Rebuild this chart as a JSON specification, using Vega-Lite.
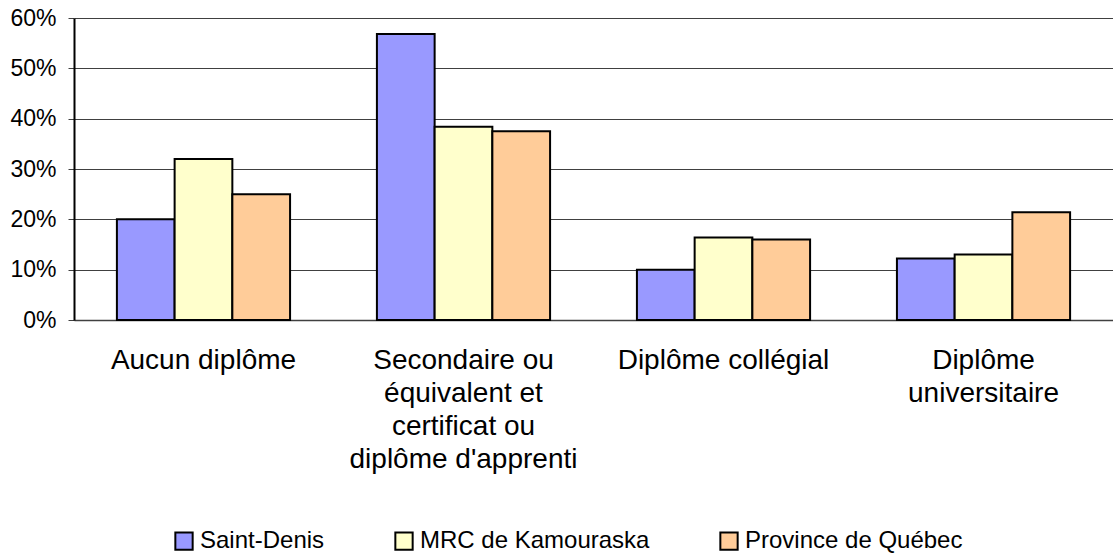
{
  "$schema": "https://vega.github.io/schema/vega-lite/v6.json",
  "autosize": {"type": "none"},
  "width": 1039,
  "height": 302,
  "padding": {"left": 74, "top": 18, "right": 0, "bottom": 235},
  "background": "white",
  "config": {
    "font": "Liberation Sans",
    "view": {"stroke": null},
    "axis": {"labelFont": "Liberation Sans", "labelColor": "black"},
    "legend": {"labelFont": "Liberation Sans"}
  },
  "data": {
    "values": [
      {"categorie": "Aucun diplôme", "territoire": "Saint-Denis", "valeur": 0.200},
      {"categorie": "Aucun diplôme", "territoire": "MRC de Kamouraska", "valeur": 0.320},
      {"categorie": "Aucun diplôme", "territoire": "Province de Québec", "valeur": 0.250},
      {"categorie": "Secondaire ou équivalent et certificat ou diplôme d'apprenti", "territoire": "Saint-Denis", "valeur": 0.568},
      {"categorie": "Secondaire ou équivalent et certificat ou diplôme d'apprenti", "territoire": "MRC de Kamouraska", "valeur": 0.384},
      {"categorie": "Secondaire ou équivalent et certificat ou diplôme d'apprenti", "territoire": "Province de Québec", "valeur": 0.375},
      {"categorie": "Diplôme collégial", "territoire": "Saint-Denis", "valeur": 0.100},
      {"categorie": "Diplôme collégial", "territoire": "MRC de Kamouraska", "valeur": 0.164},
      {"categorie": "Diplôme collégial", "territoire": "Province de Québec", "valeur": 0.160},
      {"categorie": "Diplôme universitaire", "territoire": "Saint-Denis", "valeur": 0.122},
      {"categorie": "Diplôme universitaire", "territoire": "MRC de Kamouraska", "valeur": 0.130},
      {"categorie": "Diplôme universitaire", "territoire": "Province de Québec", "valeur": 0.214}
    ]
  },
  "mark": {"type": "bar", "stroke": "black", "strokeWidth": 2},
  "encoding": {
    "x": {
      "field": "categorie",
      "type": "nominal",
      "sort": null,
      "scale": {"paddingInner": 0.334, "paddingOuter": 0.165},
      "axis": {
        "title": null,
        "labelAngle": 0,
        "ticks": false,
        "domainColor": "#404040",
        "domainWidth": 1.5,
        "labelFontSize": 28,
        "labelLineHeight": 33,
        "labelPadding": 26,
        "labelLimit": 400,
        "labelExpr": "datum.value == 'Secondaire ou équivalent et certificat ou diplôme d\\'apprenti' ? ['Secondaire ou', 'équivalent et', 'certificat ou', 'diplôme d\\'apprenti'] : datum.value == 'Diplôme universitaire' ? ['Diplôme', 'universitaire'] : datum.value"
      }
    },
    "xOffset": {
      "field": "territoire",
      "type": "nominal",
      "sort": ["Saint-Denis", "MRC de Kamouraska", "Province de Québec"],
      "scale": {"paddingInner": 0, "paddingOuter": 0}
    },
    "y": {
      "field": "valeur",
      "type": "quantitative",
      "scale": {"domain": [0, 0.6], "nice": false},
      "axis": {
        "title": null,
        "format": ".0%",
        "values": [0, 0.1, 0.2, 0.3, 0.4, 0.5, 0.6],
        "labelFontSize": 23,
        "labelPadding": 12,
        "tickSize": 6,
        "tickColor": "#404040",
        "domainColor": "black",
        "domainWidth": 2,
        "gridColor": "#404040",
        "gridWidth": 1.2
      }
    },
    "color": {
      "field": "territoire",
      "type": "nominal",
      "sort": ["Saint-Denis", "MRC de Kamouraska", "Province de Québec"],
      "scale": {
        "domain": ["Saint-Denis", "MRC de Kamouraska", "Province de Québec"],
        "range": ["#9999FF", "#FFFFCC", "#FFCC99"]
      },
      "legend": {
        "title": null,
        "orient": "none",
        "legendX": 98,
        "legendY": 511,
        "direction": "horizontal",
        "symbolType": "square",
        "symbolSize": 300,
        "symbolStrokeColor": "black",
        "symbolStrokeWidth": 2,
        "symbolOpacity": 1,
        "labelFontSize": 24,
        "labelColor": "black",
        "labelOffset": 4,
        "columnPadding": 66,
        "labelLimit": 400
      }
    }
  }
}
